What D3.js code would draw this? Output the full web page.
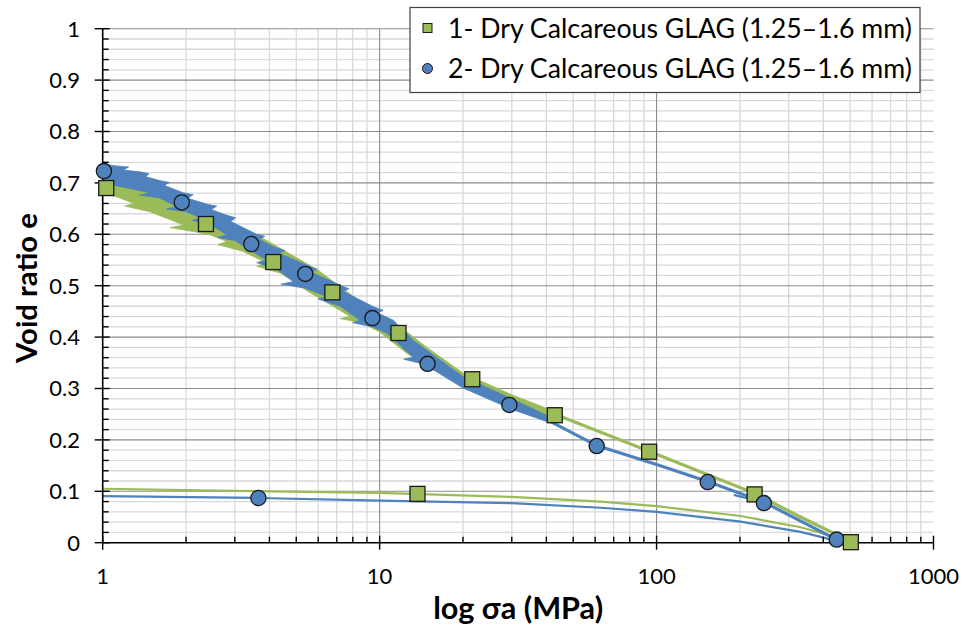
<!DOCTYPE html>
<html><head><meta charset="utf-8">
<script src="https://cdn.jsdelivr.net/npm/d3@7"></script>
<style>
body{margin:0;background:#fff}
svg{display:block}
text{font-family:Lato,"Open Sans",sans-serif;fill:#000}
</style>
</head><body>
<svg id="chart" width="966" height="630"></svg>
<script>
// ---------- data ----------
const xTickValues = [1, 10, 100, 1000];
const yTickValues = [0, 0.1, 0.2, 0.3, 0.4, 0.5, 0.6, 0.7, 0.8, 0.9, 1];
const seriesNames = ["1- Dry Calcareous GLAG (1.25–1.6 mm)", "2- Dry Calcareous GLAG (1.25–1.6 mm)"];
const xTitle = "log σa (MPa)";
const yTitle = "Void ratio e";

// Series 1 (green) – noisy loading band, upper and lower envelopes [σa, e]
const s1BandUpper = [[1.0,0.700],[1.5,0.688],[2,0.660],[3,0.620],[4,0.585],[6,0.530],[8,0.480],[10,0.445],[12,0.418],[15,0.378],[20,0.330],[30,0.288],[43,0.255]];
const s1BandLower = [[1.0,0.680],[1.12,0.673],[1.3,0.660],[1.2,0.655],[1.48,0.644],[1.96,0.618],[1.75,0.613],[2.2,0.604],[2.44,0.599],[2.81,0.586],[2.6,0.580],[3.2,0.567],[3.92,0.544],[3.6,0.538],[4.4,0.524],[5.5,0.489],[7.84,0.440],[7.2,0.436],[8.6,0.428],[10,0.410],[12.56,0.368],[20,0.305],[30,0.262],[43,0.243]];
// Series 1 loading (smooth part) and unloading
const s1Load = [[30,0.280],[43,0.250],[94,0.178],[150,0.134],[224,0.097],[331,0.050],[503,0.002]];
const s1Unload = [[503,0.002],[436,0.012],[331,0.030],[201,0.052],[100,0.071],[62.8,0.080],[30,0.089],[10,0.097],[3,0.101],[1,0.105]];
const s1Markers = [[1.03,0.690],[2.36,0.620],[4.13,0.546],[6.75,0.487],[11.7,0.408],[21.6,0.318],[42.9,0.248],[94,0.177],[226,0.094]];
const s1UnloadMarkers = [[503,0.001],[13.7,0.095]];

// Series 2 (blue) – noisy loading band envelopes
const s2BandUpper = [[1.0,0.737],[1.12,0.733],[1.24,0.731],[1.19,0.725],[1.38,0.721],[1.47,0.718],[1.43,0.712],[1.62,0.704],[1.74,0.701],[1.67,0.695],[1.95,0.681],[2.12,0.677],[2.03,0.670],[2.4,0.658],[2.58,0.655],[2.47,0.648],[2.81,0.637],[3.02,0.632],[2.9,0.625],[3.6,0.600],[3.85,0.596],[3.68,0.590],[4.14,0.576],[4.55,0.568],[4.32,0.563],[5.47,0.540],[5.95,0.532],[5.62,0.527],[7.2,0.501],[7.75,0.494],[7.38,0.489],[9.5,0.459],[10.3,0.452],[9.85,0.447],[11.2,0.433],[13.2,0.394],[20,0.323],[30.5,0.278],[40,0.248]];
const s2BandLower = [[1.0,0.700],[1.48,0.681],[1.36,0.676],[1.6,0.671],[1.85,0.654],[1.7,0.649],[2.0,0.644],[2.25,0.632],[2.1,0.627],[2.45,0.619],[2.81,0.599],[2.6,0.594],[3.0,0.588],[3.4,0.569],[3.92,0.550],[3.6,0.545],[4.3,0.530],[4.89,0.508],[4.4,0.503],[5.4,0.495],[6.45,0.479],[6.0,0.474],[7.2,0.460],[8.5,0.433],[8.0,0.428],[9.4,0.420],[10.6,0.408],[13.2,0.361],[12.2,0.357],[14.5,0.347],[20,0.301],[30.5,0.258],[40,0.236]];
const s2Load = [[30,0.266],[40,0.240],[60.8,0.189],[100,0.152],[153,0.119],[244,0.079],[447,0.006]];
const s2Stub = [[190,0.093],[224,0.083]];
const s2Unload = [[447,0.004],[436,0.005],[331,0.021],[201,0.041],[100,0.060],[62.8,0.068],[30,0.077],[10,0.082],[3.65,0.087],[1,0.0905]];
const s2Markers = [[1.01,0.723],[1.93,0.662],[3.44,0.581],[5.39,0.523],[9.42,0.437],[14.9,0.348],[29.4,0.268],[60.8,0.188],[153,0.118],[244,0.077],[447,0.006],[3.65,0.087]];

const green = "#9BBB59", blue = "#4F81BD";

// ---------- layout ----------
const W = 966, H = 630;
const m = {left: 102.7, right: 32.5, top: 28.7, bottom: 87.3};
const svg = d3.select("#chart");
const x = d3.scaleLog().domain([1, 1000]).range([m.left, W - m.right]);
const y = d3.scaleLinear().domain([0, 1]).range([H - m.bottom, m.top]);
const x0 = x.range()[0], x1 = x.range()[1], y0 = y.range()[0], y1 = y.range()[1];

// grid
const xMinor = [], yMinor = [];
[1, 10, 100].forEach(d => { for (let k = 2; k <= 9; k++) xMinor.push(k * d); });
for (let i = 1; i < 50; i++) { if (i % 5 !== 0) yMinor.push(i / 50); }
const g = svg.append("g");
g.selectAll(".xm").data(xMinor).join("line")
  .attr("x1", d => x(d)).attr("x2", d => x(d)).attr("y1", y0).attr("y2", y1)
  .attr("stroke", "#d9d9d9").attr("stroke-width", 1.3);
g.selectAll(".ym").data(yMinor).join("line")
  .attr("x1", x0).attr("x2", x1).attr("y1", d => y(d)).attr("y2", d => y(d))
  .attr("stroke", "#d9d9d9").attr("stroke-width", 1.3);
g.selectAll(".xM").data([10, 100]).join("line")
  .attr("x1", d => x(d)).attr("x2", d => x(d)).attr("y1", y0).attr("y2", y1)
  .attr("stroke", "#8c8c8c").attr("stroke-width", 1.1);
g.selectAll(".yM").data(yTickValues.filter(v => v > 0)).join("line")
  .attr("x1", x0).attr("x2", x1).attr("y1", d => y(d)).attr("y2", d => y(d))
  .attr("stroke", "#8c8c8c").attr("stroke-width", 1.1);

// data lines
const line = d3.line().x(d => x(d[0])).y(d => y(d[1]));
const band = (up, lo) => line(up.concat(lo.slice().reverse())) + "Z";
const dg = svg.append("g");
dg.append("path").attr("d", line(s1Unload)).attr("fill", "none").attr("stroke", green).attr("stroke-width", 2.2);
dg.append("path").attr("d", line(s2Unload)).attr("fill", "none").attr("stroke", blue).attr("stroke-width", 2.2);
dg.append("path").attr("d", band(s1BandUpper, s1BandLower)).attr("fill", green).attr("stroke", green).attr("stroke-width", 0.8);
dg.append("path").attr("d", line(s1Load)).attr("fill", "none").attr("stroke", green).attr("stroke-width", 3.2);
dg.append("path").attr("d", band(s2BandUpper, s2BandLower)).attr("fill", blue).attr("stroke", blue).attr("stroke-width", 0.8);
dg.append("path").attr("d", line(s2Load)).attr("fill", "none").attr("stroke", blue).attr("stroke-width", 3.2);
dg.append("path").attr("d", line(s2Stub)).attr("fill", "none").attr("stroke", blue).attr("stroke-width", 2.2);

// axes
const ag = svg.append("g");
ag.append("line").attr("x1", x0).attr("x2", x1).attr("y1", y0).attr("y2", y0).attr("stroke", "#000").attr("stroke-width", 1.6);
ag.append("line").attr("x1", x0).attr("x2", x0).attr("y1", y0).attr("y2", y1).attr("stroke", "#000").attr("stroke-width", 1.6);
ag.selectAll(".xt").data(xMinor).join("line")
  .attr("x1", d => x(d)).attr("x2", d => x(d)).attr("y1", y0).attr("y2", y0 - 6).attr("stroke", "#000").attr("stroke-width", 1.4);
ag.selectAll(".xT").data(xTickValues).join("line")
  .attr("x1", d => x(d)).attr("x2", d => x(d)).attr("y1", y0 + 7).attr("y2", y0 - 7).attr("stroke", "#000").attr("stroke-width", 1.4);
ag.selectAll(".yt").data(yMinor).join("line")
  .attr("x1", x0).attr("x2", x0 + 6).attr("y1", d => y(d)).attr("y2", d => y(d)).attr("stroke", "#000").attr("stroke-width", 1.4);
ag.selectAll(".yT").data(yTickValues).join("line")
  .attr("x1", x0 - 8).attr("x2", x0 + 7).attr("y1", d => y(d)).attr("y2", d => y(d)).attr("stroke", "#000").attr("stroke-width", 1.4);

const tickFont = 22;
ag.selectAll(".xl").data(xTickValues).join("text")
  .attr("x", d => x(d)).attr("y", 584).attr("text-anchor", "middle")
  .attr("font-size", tickFont).text(d => d3.format("d")(d));
ag.selectAll(".yl").data(yTickValues).join("text")
  .attr("x", 80).attr("y", d => y(d)).attr("dy", "0.36em").attr("text-anchor", "end")
  .attr("font-size", tickFont).text(d => d3.format("")(d));

// titles
const xt = svg.append("text").attr("x", (x0 + x1) / 2).attr("y", 619).attr("text-anchor", "middle")
  .attr("font-size", 26).attr("font-weight", "bold").text(xTitle);
const yt = svg.append("text").attr("transform", "translate(37,288) rotate(-90)").attr("text-anchor", "middle")
  .attr("font-size", 26).attr("font-weight", "bold").text(yTitle);

// markers
const mg = svg.append("g");
const sq = 15;
function squares(data) {
  mg.selectAll(null).data(data).join("rect")
    .attr("x", d => x(d[0]) - sq / 2).attr("y", d => y(d[1]) - sq / 2)
    .attr("width", sq).attr("height", sq)
    .attr("fill", green).attr("stroke", "#1a1a1a").attr("stroke-width", 1.3);
}
squares(s1Markers);
mg.selectAll(null).data(s2Markers).join("circle")
  .attr("cx", d => x(d[0])).attr("cy", d => y(d[1])).attr("r", 7.6)
  .attr("fill", blue).attr("stroke", "#1a1a1a").attr("stroke-width", 1.3);
squares(s1UnloadMarkers);

// legend
const lg = svg.append("g");
lg.append("rect").attr("x", 410).attr("y", 7.5).attr("width", 510).attr("height", 85)
  .attr("fill", "#fff").attr("stroke", "#404040").attr("stroke-width", 1.2);
lg.append("rect").attr("x", 423).attr("y", 23.5).attr("width", 9).attr("height", 9)
  .attr("fill", green).attr("stroke", "#1a1a1a").attr("stroke-width", 1);
lg.append("circle").attr("cx", 427.5).attr("cy", 68.5).attr("r", 5)
  .attr("fill", blue).attr("stroke", "#1a1a1a").attr("stroke-width", 1);
const lt = lg.selectAll(".lt").data(seriesNames).join("text")
  .attr("x", 448).attr("y", (d, i) => 37.5 + i * 40).attr("font-size", 28).text(d => d);

// fit text widths to the reference's measured extents
function fit(sel, target) {
  sel.each(function () {
    const t = d3.select(this);
    const fs = parseFloat(t.attr("font-size"));
    const w = this.getComputedTextLength();
    if (w > 0) t.attr("font-size", fs * target / w);
  });
}
fit(lt, 464);
fit(xt, 170);
fit(yt, 150);
</script>
</body></html>
